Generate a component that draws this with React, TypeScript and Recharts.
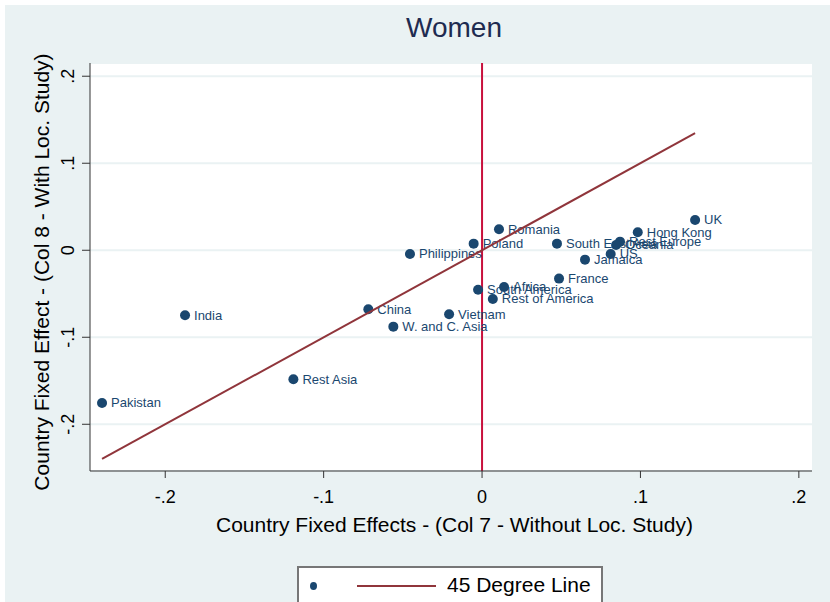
import { ScatterChart, Scatter, XAxis, YAxis, CartesianGrid, ReferenceLine } from 'recharts'

// country fixed effects, women: col 7 (x) vs col 8 (y)
const countries = [
  'UK', 'Hong Kong', 'Rest Europe', 'Oceania', 'US', 'South East Asia', 'Romania', 'Poland',
  'Philippines', 'Jamaica', 'France', 'Africa', 'South America', 'Rest of America', 'Vietnam',
  'W. and C. Asia', 'China', 'India', 'Rest Asia', 'Pakistan',
]
const withoutLoc = [
  0.1345, 0.0983, 0.0871, 0.0846, 0.0812, 0.0473, 0.0107, -0.0053,
  -0.0455, 0.065, 0.0486, 0.0139, -0.0025, 0.0068, -0.0208,
  -0.056, -0.0718, -0.1875, -0.1191, -0.2399,
]
const withLoc = [
  0.0348, 0.0207, 0.0099, 0.0061, -0.0043, 0.0076, 0.0241, 0.0076,
  -0.0043, -0.0108, -0.0326, -0.0422, -0.0453, -0.056, -0.0736,
  -0.0878, -0.0678, -0.0747, -0.1483, -0.1755,
]
const ticks = [-0.2, -0.1, 0, 0.1, 0.2]

const points = countries.map((name, i) => ({ name, x: withoutLoc[i], y: withLoc[i] }))
const lo = Math.min(...withoutLoc)
const hi = Math.max(...withoutLoc)
const diag = [{ x: lo, y: lo }, { x: hi, y: hi }]

const NAVY = '#1a476f'
const MAROON = '#90353b'
const FONT = '"Liberation Sans", Arial, sans-serif'

const fmt = (v: number) => (v === 0 ? '0' : (v < 0 ? '-' : '') + Math.abs(v).toFixed(1).replace(/^0/, ''))

const Dot = (props: any) => {
  const { cx, cy, payload } = props
  return (
    <g>
      <circle cx={cx} cy={cy} r={5} fill={NAVY} />
      <text x={cx + 9} y={cy} dominantBaseline="central" fontSize={13} fill={NAVY} fontFamily={FONT}>
        {payload.name}
      </text>
    </g>
  )
}

const XTick = (props: any) => {
  const { x, payload } = props
  return (
    <text x={x} y={497} textAnchor="middle" dominantBaseline="central" fontSize={18} fill="#000" fontFamily={FONT}>
      {fmt(payload.value)}
    </text>
  )
}

const YTick = (props: any) => {
  const { y, payload } = props
  return (
    <text x={68} y={y} transform={`rotate(-90 68 ${y})`} textAnchor="middle" dominantBaseline="central" fontSize={18} fill="#000" fontFamily={FONT}>
      {fmt(payload.value)}
    </text>
  )
}

export default function App() {
  return (
    <div style={{ position: 'absolute', left: 0, top: 0, width: 830, height: 602, background: '#fff', overflow: 'hidden', fontFamily: FONT }}>
      <div style={{ position: 'absolute', left: 5, top: 5, right: 0, bottom: 0, background: '#eaf2f3' }} />
      <div style={{ position: 'absolute', left: 0, top: 0 }}>
        <ScatterChart width={830} height={602} margin={{ top: 63, right: 18, left: 50, bottom: 91 }}>
          <CartesianGrid horizontal vertical={false} fill="#fff" stroke="#eaf2f3" strokeWidth={2} />
          <XAxis
            dataKey="x"
            type="number"
            domain={[-0.2475, 0.2083]}
            ticks={ticks}
            height={40}
            tick={<XTick />}
            tickSize={7}
            stroke="#333"
            allowDataOverflow
          />
          <YAxis
            dataKey="y"
            type="number"
            domain={[-0.2537, 0.2152]}
            ticks={ticks}
            width={40}
            tick={<YTick />}
            tickSize={8}
            stroke="#333"
            allowDataOverflow
          />
          <ReferenceLine x={0} stroke="#c8103c" strokeWidth={2} />
          <Scatter data={points} shape={<Dot />} isAnimationActive={false} />
          <Scatter data={diag} line={{ stroke: MAROON, strokeWidth: 2 }} shape={() => <g />} isAnimationActive={false} />
        </ScatterChart>
      </div>
      <div style={{ position: 'absolute', left: 0, width: 830, top: 11, textAlign: 'center', fontSize: 28, color: '#1e2b50', lineHeight: '34px', paddingLeft: 78, boxSizing: 'border-box' }}>
        Women
      </div>
      <div style={{ position: 'absolute', left: 216, width: 474, top: 512, textAlign: 'center', fontSize: 21, color: '#000', lineHeight: '26px', whiteSpace: 'nowrap' }}>
        Country Fixed Effects - (Col 7 - Without Loc. Study)
      </div>
      <div style={{ position: 'absolute', left: 42 - 250, width: 500, top: 272 - 13, textAlign: 'center', fontSize: 21, color: '#000', lineHeight: '26px', whiteSpace: 'nowrap', transform: 'rotate(-90deg)' }}>
        Country Fixed Effect - (Col 8 - With Loc. Study)
      </div>
      <div style={{ position: 'absolute', left: 297, top: 566, width: 306, height: 50, background: '#fff', border: '2px solid #777', boxSizing: 'border-box' }}>
        <span style={{ position: 'absolute', left: 11, top: 14, width: 7, height: 8, borderRadius: '50%', background: NAVY }} />
        <span style={{ position: 'absolute', left: 58, top: 17, width: 79, height: 2, background: MAROON }} />
        <span style={{ position: 'absolute', left: 148, top: 4, fontSize: 21, lineHeight: '26px', color: '#000', whiteSpace: 'nowrap' }}>45 Degree Line</span>
      </div>
    </div>
  )
}
